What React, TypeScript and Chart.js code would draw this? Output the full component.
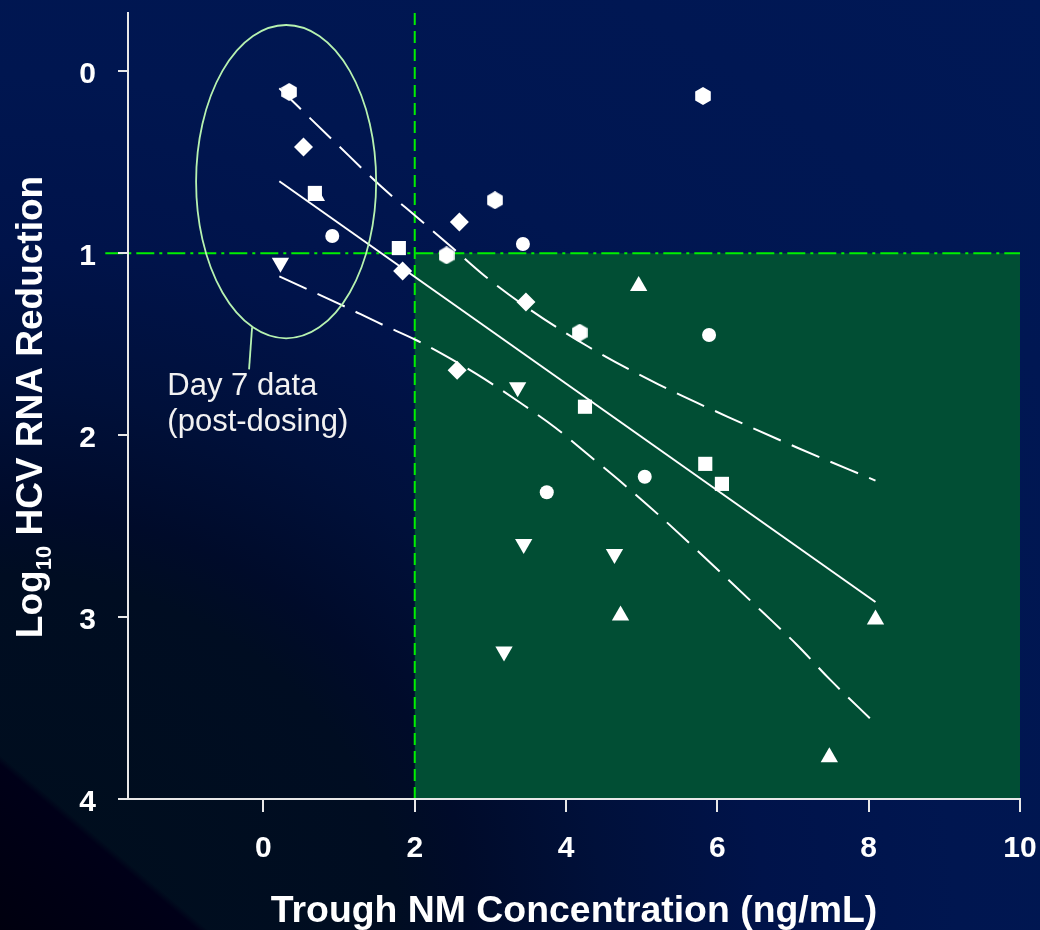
import React, { useEffect, useRef } from 'react';
import { Chart, registerables } from 'chart.js';

Chart.register(...registerables);

const FONT = "'Liberation Sans', Arial, Helvetica, sans-serif";

// axis ranges and ticks
const X_RANGE = [-1.79, 10];
const Y_RANGE = [-0.32, 4];
const X_TICKS = [0, 2, 4, 6, 8, 10];
const Y_TICKS = [0, 1, 2, 3, 4];

// texts
const X_TITLE = 'Trough NM Concentration (ng/mL)';
const Y_TITLE_MAIN = 'Log';
const Y_TITLE_SUB = '10';
const Y_TITLE_REST = ' HCV RNA Reduction';
const NOTE_LINES = ['Day 7 data', '(post-dosing)'];

// data series (x = trough concentration, y = log10 reduction)
const HEX_X = [0.34, 3.06, 5.81, 2.42, 4.18];
const HEX_Y = [0.114, 0.709, 0.136, 1.012, 1.437];

const DIAMOND_X = [0.53, 2.59, 1.84, 3.47, 2.56];
const DIAMOND_Y = [0.416, 0.829, 1.098, 1.269, 1.643];

const SQUARE_X = [0.68, 1.79, 4.25, 5.84, 6.06];
const SQUARE_Y = [0.669, 0.972, 1.844, 2.158, 2.268];

const CIRCLE_X = [0.91, 3.43, 5.89, 3.745, 5.04];
const CIRCLE_Y = [0.906, 0.95, 1.45, 2.314, 2.229];

const TRI_UP_X = [0.7, 4.96, 4.72, 8.09, 7.48];
const TRI_UP_Y = [0.686, 1.181, 2.991, 3.014, 3.77];

const TRI_DOWN_X = [0.225, 3.36, 3.44, 4.64, 3.18];
const TRI_DOWN_Y = [1.052, 1.737, 2.598, 2.653, 3.189];

// regression line and confidence bands
const FIT_X = [0.21, 8.09];
const FIT_Y = [0.605, 2.917];

const UPPER_X = [0.21, 0.987, 1.568, 2.03, 2.49, 2.93, 3.52, 4.29, 5.22, 6.13, 7.05, 8.09];
const UPPER_Y = [0.094, 0.407, 0.638, 0.803, 0.968, 1.127, 1.309, 1.513, 1.721, 1.898, 2.068, 2.25];

const LOWER_X = [0.21, 0.987, 1.568, 2.03, 2.49, 2.93, 3.39, 3.855, 4.29, 4.75, 5.22, 5.68, 6.13, 6.59, 7.05, 7.49, 8.09];
const LOWER_Y = [1.128, 1.276, 1.392, 1.48, 1.584, 1.694, 1.821, 1.958, 2.107, 2.266, 2.437, 2.613, 2.789, 2.97, 3.152, 3.344, 3.586];

// annotations (data units)
const TARGET_X = [2, 10];
const TARGET_Y = [1, 4];
const CUTOFF_X = 2;
const CUTOFF_Y = 1;
const CUTOFF_Y_LINE_START = -2.09;
const ELLIPSE_CENTER = [0.3, 0.607];
const ELLIPSE_RADII = [1.19, 0.861];
const LEADER_X = [-0.15, -0.19];
const LEADER_Y = [1.408, 1.639];
const NOTE_POS = [-1.27, 1.782];

const zip = (xs: number[], ys: number[]) => xs.map((x, i) => ({ x, y: ys[i] }));

function makeHexagon(): HTMLCanvasElement {
  const c = document.createElement('canvas');
  c.width = 16;
  c.height = 18;
  const g = c.getContext('2d')!;
  const cx = 8, cy = 9, r = 9;
  g.fillStyle = '#ffffff';
  g.beginPath();
  for (let i = 0; i < 6; i++) {
    const a = -Math.PI / 2 + (i * Math.PI) / 3;
    const px = cx + r * Math.cos(a);
    const py = cy + r * Math.sin(a);
    if (i === 0) g.moveTo(px, py);
    else g.lineTo(px, py);
  }
  g.closePath();
  g.fill();
  return c;
}

const annotPlugin = {
  id: 'annotations',
  beforeDraw(chart: any) {
    const { ctx, scales } = chart;
    const xs = scales.x, ys = scales.y;
    ctx.save();
    // target region
    const rx0 = xs.getPixelForValue(TARGET_X[0]);
    const rx1 = xs.getPixelForValue(TARGET_X[1]);
    const ry0 = ys.getPixelForValue(TARGET_Y[0]);
    const ry1 = ys.getPixelForValue(TARGET_Y[1]);
    ctx.fillStyle = '#014e34';
    ctx.fillRect(rx0, ry0, rx1 - rx0, ry1 - ry0);
    // vertical dashed cutoff
    ctx.strokeStyle = '#00f000';
    ctx.lineWidth = 2;
    ctx.setLineDash([12, 6]);
    const vx = xs.getPixelForValue(CUTOFF_X);
    ctx.beginPath();
    ctx.moveTo(vx, ys.getPixelForValue(Y_RANGE[0]));
    ctx.lineTo(vx, ys.getPixelForValue(Y_RANGE[1]));
    ctx.stroke();
    // horizontal dash-dot cutoff
    ctx.setLineDash([18, 5, 3, 5]);
    const hy = ys.getPixelForValue(CUTOFF_Y);
    ctx.beginPath();
    ctx.moveTo(xs.getPixelForValue(CUTOFF_Y_LINE_START), hy);
    ctx.lineTo(xs.getPixelForValue(X_RANGE[1]), hy);
    ctx.stroke();
    ctx.restore();
  },
  afterDatasetsDraw(chart: any) {
    const { ctx, scales } = chart;
    const xs = scales.x, ys = scales.y;
    ctx.save();
    // ellipse
    const cx = xs.getPixelForValue(ELLIPSE_CENTER[0]);
    const cy = ys.getPixelForValue(ELLIPSE_CENTER[1]);
    const rxp = Math.abs(xs.getPixelForValue(ELLIPSE_CENTER[0] + ELLIPSE_RADII[0]) - cx);
    const ryp = Math.abs(ys.getPixelForValue(ELLIPSE_CENTER[1] + ELLIPSE_RADII[1]) - cy);
    ctx.strokeStyle = '#b6f2b0';
    ctx.lineWidth = 1.8;
    ctx.beginPath();
    ctx.ellipse(cx, cy, rxp, ryp, 0, 0, Math.PI * 2);
    ctx.stroke();
    // leader
    ctx.beginPath();
    ctx.moveTo(xs.getPixelForValue(LEADER_X[0]), ys.getPixelForValue(LEADER_Y[0]));
    ctx.lineTo(xs.getPixelForValue(LEADER_X[1]), ys.getPixelForValue(LEADER_Y[1]));
    ctx.stroke();
    // note text
    ctx.fillStyle = '#f2f2f2';
    ctx.font = `31px ${FONT}`;
    ctx.textBaseline = 'alphabetic';
    ctx.textAlign = 'left';
    const nx = xs.getPixelForValue(NOTE_POS[0]);
    const ny = ys.getPixelForValue(NOTE_POS[1]);
    NOTE_LINES.forEach((t, i) => ctx.fillText(t, nx, ny + i * 36));
    ctx.restore();
  },
  afterDraw(chart: any) {
    const { ctx, chartArea } = chart;
    ctx.save();
    ctx.fillStyle = '#ffffff';
    // x title
    ctx.font = `bold 37.4px ${FONT}`;
    ctx.textAlign = 'center';
    ctx.textBaseline = 'alphabetic';
    ctx.fillText(X_TITLE, (chartArea.left + chartArea.right) / 2, chartArea.bottom + 123);
    // y title with subscript
    const mainFont = `bold 37px ${FONT}`;
    const subFont = `bold 22px ${FONT}`;
    ctx.font = mainFont;
    const w1 = ctx.measureText(Y_TITLE_MAIN).width;
    const w3 = ctx.measureText(Y_TITLE_REST).width;
    ctx.font = subFont;
    const w2 = ctx.measureText(Y_TITLE_SUB).width;
    const total = w1 + w2 + w3;
    ctx.translate(42, (chartArea.top + chartArea.bottom) / 2 + 1);
    ctx.rotate(-Math.PI / 2);
    ctx.textAlign = 'left';
    let sx = -total / 2;
    ctx.font = mainFont;
    ctx.fillText(Y_TITLE_MAIN, sx, 0);
    sx += w1;
    ctx.font = subFont;
    ctx.fillText(Y_TITLE_SUB, sx, 9);
    sx += w2;
    ctx.font = mainFont;
    ctx.fillText(Y_TITLE_REST, sx, 0);
    ctx.restore();
  },
};

export default function App() {
  const ref = useRef<HTMLCanvasElement | null>(null);

  useEffect(() => {
    if (!ref.current) return;
    const hex = makeHexagon();
    const pointBase = {
      type: 'scatter' as const,
      backgroundColor: '#ffffff',
      borderColor: '#ffffff',
      pointBorderWidth: 0,
      borderWidth: 0,
      showLine: false,
    };
    const lineBase = {
      type: 'line' as const,
      borderColor: '#ffffff',
      borderWidth: 2,
      pointRadius: 0,
      fill: false,
      showLine: true,
    };
    const tickFont = { family: FONT, size: 30, weight: 'bold' };
    const chart = new Chart(ref.current, {
      type: 'scatter',
      data: {
        datasets: [
          { ...lineBase, label: 'fit', data: zip(FIT_X, FIT_Y) },
          { ...lineBase, label: 'upper', data: zip(UPPER_X, UPPER_Y), borderDash: [30, 12], cubicInterpolationMode: 'monotone' },
          { ...lineBase, label: 'lower', data: zip(LOWER_X, LOWER_Y), borderDash: [30, 12], cubicInterpolationMode: 'monotone' },
          { ...pointBase, label: 'hexagon', data: zip(HEX_X, HEX_Y), pointStyle: hex, pointRadius: 9 },
          { ...pointBase, label: 'diamond', data: zip(DIAMOND_X, DIAMOND_Y), pointStyle: 'rectRot', pointRadius: 9.5 },
          { ...pointBase, label: 'square', data: zip(SQUARE_X, SQUARE_Y), pointStyle: 'rect', pointRadius: 10 },
          { ...pointBase, label: 'circle', data: zip(CIRCLE_X, CIRCLE_Y), pointStyle: 'circle', pointRadius: 7 },
          { ...pointBase, label: 'triangle up', data: zip(TRI_UP_X, TRI_UP_Y), pointStyle: 'triangle', pointRadius: 10 },
          { ...pointBase, label: 'triangle down', data: zip(TRI_DOWN_X, TRI_DOWN_Y), pointStyle: 'triangle', pointRotation: 180, pointRadius: 10 },
        ] as any,
      },
      options: {
        animation: false,
        responsive: false,
        devicePixelRatio: 1,
        layout: { padding: { top: 13, right: 20, bottom: 0, left: 0 } },
        plugins: {
          legend: { display: false },
          tooltip: { enabled: false },
          title: { display: false },
        },
        events: [],
        scales: {
          x: {
            type: 'linear',
            min: X_RANGE[0],
            max: X_RANGE[1],
            afterBuildTicks: (s: any) => { s.ticks = X_TICKS.map((v) => ({ value: v })); },
            afterFit: (s: any) => { s.height = 131; s.paddingLeft = 0; s.paddingRight = 0; },
            grid: { display: true, drawOnChartArea: false, drawTicks: true, tickLength: 13, color: '#e8e8e8', lineWidth: 2 },
            border: { display: true, color: '#e8e8e8', width: 2 },
            ticks: {
              autoSkip: false,
              maxRotation: 0,
              padding: 19,
              color: '#ffffff',
              font: tickFont,
              callback: (v: any) => String(v),
            },
          },
          y: {
            type: 'linear',
            reverse: true,
            min: Y_RANGE[0],
            max: Y_RANGE[1],
            afterBuildTicks: (s: any) => { s.ticks = Y_TICKS.map((v) => ({ value: v })); },
            afterFit: (s: any) => { s.width = 128; s.paddingTop = 0; s.paddingBottom = 0; },
            grid: { display: true, drawOnChartArea: false, drawTicks: true, tickLength: 10, color: '#e8e8e8', lineWidth: 2 },
            border: { display: true, color: '#e8e8e8', width: 2 },
            ticks: {
              autoSkip: false,
              padding: 22,
              labelOffset: 4,
              color: '#ffffff',
              font: tickFont,
              callback: (v: any) => String(v),
            },
          },
        },
      } as any,
      plugins: [annotPlugin],
    });
    return () => chart.destroy();
  }, []);

  return (
    <div
      style={{
        position: 'fixed',
        left: 0,
        top: 0,
        width: 1040,
        height: 930,
        background: [
          'linear-gradient(40deg, #00000f 0%, #000018 9.2%, rgba(0,0,20,0) 9.7%)',
          'radial-gradient(ellipse at 0% 100%, #000e1c 0%, #000d22 27%, #000b2a 32%, #00103a 41%, #00134a 52%, #001650 65%, #001856 100%)',
        ].join(', '),
      }}
    >
      <canvas ref={ref} width={1040} height={930} style={{ display: 'block', width: 1040, height: 930 }} />
    </div>
  );
}
